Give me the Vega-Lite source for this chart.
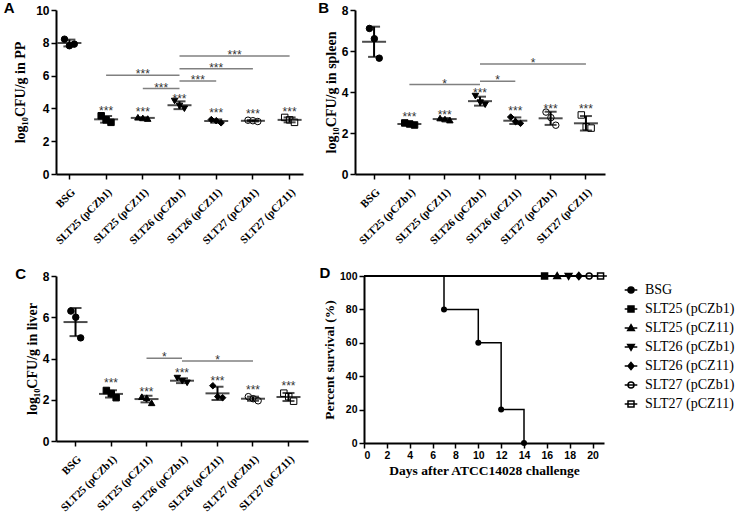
{
  "$schema": "https://vega.github.io/schema/vega-lite/v6.json",
  "padding": {"left": 3, "top": 1, "right": 0, "bottom": 0},
  "background": "white",
  "datasets": {
    "pp": [
      {"group": "BSG", "rep": 1, "value": 8.22}, {"group": "BSG", "rep": 2, "value": 7.82}, {"group": "BSG", "rep": 3, "value": 7.92},
      {"group": "SLT25 (pCZb1)", "rep": 1, "value": 3.55}, {"group": "SLT25 (pCZb1)", "rep": 2, "value": 3.3}, {"group": "SLT25 (pCZb1)", "rep": 3, "value": 3.15},
      {"group": "SLT25 (pCZ11)", "rep": 1, "value": 3.46}, {"group": "SLT25 (pCZ11)", "rep": 2, "value": 3.42}, {"group": "SLT25 (pCZ11)", "rep": 3, "value": 3.38},
      {"group": "SLT26 (pCZb1)", "rep": 1, "value": 4.45}, {"group": "SLT26 (pCZb1)", "rep": 2, "value": 4.15}, {"group": "SLT26 (pCZb1)", "rep": 3, "value": 3.98},
      {"group": "SLT26 (pCZ11)", "rep": 1, "value": 3.32}, {"group": "SLT26 (pCZ11)", "rep": 2, "value": 3.25}, {"group": "SLT26 (pCZ11)", "rep": 3, "value": 3.12},
      {"group": "SLT27 (pCZb1)", "rep": 1, "value": 3.28}, {"group": "SLT27 (pCZb1)", "rep": 2, "value": 3.25}, {"group": "SLT27 (pCZb1)", "rep": 3, "value": 3.2},
      {"group": "SLT27 (pCZ11)", "rep": 1, "value": 3.45}, {"group": "SLT27 (pCZ11)", "rep": 2, "value": 3.3}, {"group": "SLT27 (pCZ11)", "rep": 3, "value": 3.15}
    ],
    "spleen": [
      {"group": "BSG", "rep": 1, "value": 7.1}, {"group": "BSG", "rep": 2, "value": 6.6}, {"group": "BSG", "rep": 3, "value": 5.65},
      {"group": "SLT25 (pCZb1)", "rep": 1, "value": 2.49}, {"group": "SLT25 (pCZb1)", "rep": 2, "value": 2.44}, {"group": "SLT25 (pCZb1)", "rep": 3, "value": 2.39},
      {"group": "SLT25 (pCZ11)", "rep": 1, "value": 2.73}, {"group": "SLT25 (pCZ11)", "rep": 2, "value": 2.68}, {"group": "SLT25 (pCZ11)", "rep": 3, "value": 2.63},
      {"group": "SLT26 (pCZb1)", "rep": 1, "value": 3.8}, {"group": "SLT26 (pCZb1)", "rep": 2, "value": 3.48}, {"group": "SLT26 (pCZb1)", "rep": 3, "value": 3.38},
      {"group": "SLT26 (pCZ11)", "rep": 1, "value": 2.78}, {"group": "SLT26 (pCZ11)", "rep": 2, "value": 2.55}, {"group": "SLT26 (pCZ11)", "rep": 3, "value": 2.47},
      {"group": "SLT27 (pCZb1)", "rep": 1, "value": 3.02}, {"group": "SLT27 (pCZb1)", "rep": 2, "value": 2.75}, {"group": "SLT27 (pCZb1)", "rep": 3, "value": 2.38},
      {"group": "SLT27 (pCZ11)", "rep": 1, "value": 2.88}, {"group": "SLT27 (pCZ11)", "rep": 2, "value": 2.3}, {"group": "SLT27 (pCZ11)", "rep": 3, "value": 2.24}
    ],
    "liver": [
      {"group": "BSG", "rep": 1, "value": 6.3}, {"group": "BSG", "rep": 2, "value": 6.0}, {"group": "BSG", "rep": 3, "value": 5.0},
      {"group": "SLT25 (pCZb1)", "rep": 1, "value": 2.45}, {"group": "SLT25 (pCZb1)", "rep": 2, "value": 2.3}, {"group": "SLT25 (pCZb1)", "rep": 3, "value": 2.1},
      {"group": "SLT25 (pCZ11)", "rep": 1, "value": 2.15}, {"group": "SLT25 (pCZ11)", "rep": 2, "value": 2.1}, {"group": "SLT25 (pCZ11)", "rep": 3, "value": 1.85},
      {"group": "SLT26 (pCZb1)", "rep": 1, "value": 3.05}, {"group": "SLT26 (pCZb1)", "rep": 2, "value": 2.9}, {"group": "SLT26 (pCZb1)", "rep": 3, "value": 2.82},
      {"group": "SLT26 (pCZ11)", "rep": 1, "value": 2.68}, {"group": "SLT26 (pCZ11)", "rep": 2, "value": 2.15}, {"group": "SLT26 (pCZ11)", "rep": 3, "value": 2.1},
      {"group": "SLT27 (pCZb1)", "rep": 1, "value": 2.15}, {"group": "SLT27 (pCZb1)", "rep": 2, "value": 2.05}, {"group": "SLT27 (pCZb1)", "rep": 3, "value": 1.95},
      {"group": "SLT27 (pCZ11)", "rep": 1, "value": 2.32}, {"group": "SLT27 (pCZ11)", "rep": 2, "value": 2.15}, {"group": "SLT27 (pCZ11)", "rep": 3, "value": 1.93}
    ],
    "ppStars": [
      {"group": "SLT25 (pCZb1)", "value": 4.01, "label": "***"}, {"group": "SLT25 (pCZ11)", "value": 3.95, "label": "***"},
      {"group": "SLT26 (pCZb1)", "value": 4.76, "label": "***"}, {"group": "SLT26 (pCZ11)", "value": 3.89, "label": "***"},
      {"group": "SLT27 (pCZb1)", "value": 3.85, "label": "***"}, {"group": "SLT27 (pCZ11)", "value": 3.95, "label": "***"}
    ],
    "spleenStars": [
      {"group": "SLT25 (pCZb1)", "value": 2.93, "label": "***"}, {"group": "SLT25 (pCZ11)", "value": 3.04, "label": "***"},
      {"group": "SLT26 (pCZb1)", "value": 4.11, "label": "***"}, {"group": "SLT26 (pCZ11)", "value": 3.22, "label": "***"},
      {"group": "SLT27 (pCZb1)", "value": 3.33, "label": "***"}, {"group": "SLT27 (pCZ11)", "value": 3.33, "label": "***"}
    ],
    "liverStars": [
      {"group": "SLT25 (pCZb1)", "value": 2.94, "label": "***"}, {"group": "SLT25 (pCZ11)", "value": 2.54, "label": "***"},
      {"group": "SLT26 (pCZb1)", "value": 3.45, "label": "***"}, {"group": "SLT26 (pCZ11)", "value": 3.07, "label": "***"},
      {"group": "SLT27 (pCZb1)", "value": 2.62, "label": "***"}, {"group": "SLT27 (pCZ11)", "value": 2.83, "label": "***"}
    ],
    "ppSig": [
      {"from": 1, "to": 3, "mid": 2, "value": 6.02, "label": "***"},
      {"from": 2, "to": 3, "mid": 2.5, "value": 5.21, "label": "***"},
      {"from": 3, "to": 4, "mid": 3.5, "value": 5.67, "label": "***"},
      {"from": 3, "to": 5, "mid": 4, "value": 6.42, "label": "***"},
      {"from": 3, "to": 6, "mid": 4.5, "value": 7.19, "label": "***"}
    ],
    "spleenSig": [
      {"from": 1, "to": 3, "mid": 2, "value": 4.36, "label": "*"},
      {"from": 3, "to": 4, "mid": 3.5, "value": 4.52, "label": "*"},
      {"from": 3, "to": 6, "mid": 4.5, "value": 5.37, "label": "*"}
    ],
    "liverSig": [
      {"from": 2, "to": 3, "mid": 2.5, "value": 4.01, "label": "*"},
      {"from": 3, "to": 5, "mid": 4, "value": 3.88, "label": "*"}
    ],
    "survCurves": [
      {"group": "BSG", "day": 0, "survival": 100}, {"group": "BSG", "day": 7, "survival": 80}, {"group": "BSG", "day": 10, "survival": 60},
      {"group": "BSG", "day": 12, "survival": 20}, {"group": "BSG", "day": 14, "survival": 0},
      {"group": "SLT25 (pCZb1)", "day": 0, "survival": 100}, {"group": "SLT25 (pCZb1)", "day": 15.8, "survival": 100},
      {"group": "SLT25 (pCZ11)", "day": 0, "survival": 100}, {"group": "SLT25 (pCZ11)", "day": 16.9, "survival": 100},
      {"group": "SLT26 (pCZb1)", "day": 0, "survival": 100}, {"group": "SLT26 (pCZb1)", "day": 17.9, "survival": 100},
      {"group": "SLT26 (pCZ11)", "day": 0, "survival": 100}, {"group": "SLT26 (pCZ11)", "day": 18.8, "survival": 100},
      {"group": "SLT27 (pCZb1)", "day": 0, "survival": 100}, {"group": "SLT27 (pCZb1)", "day": 19.7, "survival": 100},
      {"group": "SLT27 (pCZ11)", "day": 0, "survival": 100}, {"group": "SLT27 (pCZ11)", "day": 20.7, "survival": 100}
    ],
    "survBSG": [
      {"group": "BSG", "day": 7, "survival": 80}, {"group": "BSG", "day": 10, "survival": 60},
      {"group": "BSG", "day": 12, "survival": 20}, {"group": "BSG", "day": 14, "survival": 0}
    ],
    "survEnd": [
      {"group": "SLT25 (pCZb1)", "day": 15.8, "survival": 100},
      {"group": "SLT25 (pCZ11)", "day": 16.9, "survival": 100},
      {"group": "SLT26 (pCZb1)", "day": 17.9, "survival": 100},
      {"group": "SLT26 (pCZ11)", "day": 18.8, "survival": 100},
      {"group": "SLT27 (pCZb1)", "day": 19.7, "survival": 100},
      {"group": "SLT27 (pCZ11)", "day": 20.7, "survival": 100}
    ]
  },
  "resolve": {
    "scale": {"shape": "independent", "fill": "independent", "stroke": "independent"},
    "legend": {"shape": "independent", "fill": "independent", "stroke": "independent"}
  },
  "spacing": 19,
  "vconcat": [
    {
      "spacing": 15,
      "hconcat": [
        {
          "width": 247,
          "height": 164,
          "title": {"text": "A", "anchor": "start", "frame": "bounds", "baseline": "top", "offset": 0, "dx": -10, "dy": 12, "font": "Liberation Sans", "fontSize": 15, "fontWeight": "bold", "color": "black"},
          "resolve": {"scale": {"x": "independent"}},
          "encoding": {
            "y": {"field": "value", "type": "quantitative", "scale": {"domain": [0, 10], "nice": false}, "axis": {"values": [0, 2, 4, 6, 8, 10], "title": "log₁₀CFU/g in PP", "titlePadding": 8, "labelFontSize": 12}}
          },
          "layer": [
            {
              "encoding": {
                "x": {"field": "group", "type": "nominal",
                  "scale": {"domain": ["BSG", "SLT25 (pCZb1)", "SLT25 (pCZ11)", "SLT26 (pCZb1)", "SLT26 (pCZ11)", "SLT27 (pCZb1)", "SLT27 (pCZ11)"], "paddingInner": 0.6, "paddingOuter": 0.165},
                  "axis": {"title": null, "labelAngle": -45, "labelFont": "Liberation Serif", "labelFontSize": 11, "labelFontWeight": "bold", "labelPadding": 7}}
              },
              "layer": [
                {
                  "data": {"name": "pp"},
                  "mark": {"type": "point", "filled": true, "stroke": "black", "strokeWidth": 1, "size": 42, "opacity": 1},
                  "encoding": {
                    "xOffset": {"field": "rep", "type": "nominal"},
                    "shape": {"field": "group", "type": "nominal", "legend": null,
                      "scale": {"domain": ["BSG", "SLT25 (pCZb1)", "SLT25 (pCZ11)", "SLT26 (pCZb1)", "SLT26 (pCZ11)", "SLT27 (pCZb1)", "SLT27 (pCZ11)"], "range": ["circle", "square", "triangle-up", "triangle-down", "diamond", "circle", "square"]}},
                    "fill": {"field": "group", "type": "nominal", "legend": null,
                      "scale": {"domain": ["BSG", "SLT25 (pCZb1)", "SLT25 (pCZ11)", "SLT26 (pCZb1)", "SLT26 (pCZ11)", "SLT27 (pCZb1)", "SLT27 (pCZ11)"], "range": ["black", "black", "black", "black", "black", "white", "white"]}}
                  }
                },
                {
                  "data": {"name": "pp"},
                  "mark": {"type": "errorbar", "extent": "stdev", "ticks": true, "size": 12, "thickness": 2, "color": "black"}
                },
                {
                  "data": {"name": "pp"},
                  "transform": [{"aggregate": [{"op": "mean", "field": "value", "as": "value"}], "groupby": ["group"]}],
                  "mark": {"type": "tick", "size": 24, "thickness": 2, "color": "black"}
                },
                {
                  "data": {"name": "ppStars"},
                  "mark": {"type": "text", "font": "Liberation Sans", "fontSize": 12, "color": "#333", "baseline": "alphabetic", "dy": 7},
                  "encoding": {"text": {"field": "label"}}
                }
              ]
            },
            {
              "data": {"name": "ppSig"},
              "encoding": {
                "x": {"field": "from", "type": "quantitative", "scale": {"domain": [-0.365, 6.365], "nice": false, "zero": false}, "axis": null}
              },
              "layer": [
                {"mark": {"type": "rule", "color": "#808080", "strokeWidth": 1.5}, "encoding": {"x2": {"field": "to"}}},
                {"mark": {"type": "text", "font": "Liberation Sans", "fontSize": 12, "color": "#333", "baseline": "alphabetic", "dy": 3},
                 "encoding": {"x": {"field": "mid", "type": "quantitative", "scale": {"domain": [-0.365, 6.365], "nice": false, "zero": false}, "axis": null}, "text": {"field": "label"}}}
              ]
            }
          ]
        },
        {
          "width": 250,
          "height": 164,
          "title": {"text": "B", "anchor": "start", "frame": "bounds", "baseline": "top", "offset": 0, "dx": -6, "dy": 12, "font": "Liberation Sans", "fontSize": 15, "fontWeight": "bold", "color": "black"},
          "resolve": {"scale": {"x": "independent"}},
          "encoding": {
            "y": {"field": "value", "type": "quantitative", "scale": {"domain": [0, 8], "nice": false}, "axis": {"values": [0, 2, 4, 6, 8], "title": "log₁₀CFU/g in spleen", "labelFontSize": 12}}
          },
          "layer": [
            {
              "encoding": {
                "x": {"field": "group", "type": "nominal",
                  "scale": {"domain": ["BSG", "SLT25 (pCZb1)", "SLT25 (pCZ11)", "SLT26 (pCZb1)", "SLT26 (pCZ11)", "SLT27 (pCZb1)", "SLT27 (pCZ11)"], "paddingInner": 0.6, "paddingOuter": 0.34},
                  "axis": {"title": null, "labelAngle": -45, "labelFont": "Liberation Serif", "labelFontSize": 11, "labelFontWeight": "bold", "labelPadding": 7}}
              },
              "layer": [
                {
                  "data": {"name": "spleen"},
                  "mark": {"type": "point", "filled": true, "stroke": "black", "strokeWidth": 1, "size": 42, "opacity": 1},
                  "encoding": {
                    "xOffset": {"field": "rep", "type": "nominal"},
                    "shape": {"field": "group", "type": "nominal", "legend": null,
                      "scale": {"domain": ["BSG", "SLT25 (pCZb1)", "SLT25 (pCZ11)", "SLT26 (pCZb1)", "SLT26 (pCZ11)", "SLT27 (pCZb1)", "SLT27 (pCZ11)"], "range": ["circle", "square", "triangle-up", "triangle-down", "diamond", "circle", "square"]}},
                    "fill": {"field": "group", "type": "nominal", "legend": null,
                      "scale": {"domain": ["BSG", "SLT25 (pCZb1)", "SLT25 (pCZ11)", "SLT26 (pCZb1)", "SLT26 (pCZ11)", "SLT27 (pCZb1)", "SLT27 (pCZ11)"], "range": ["black", "black", "black", "black", "black", "white", "white"]}}
                  }
                },
                {
                  "data": {"name": "spleen"},
                  "mark": {"type": "errorbar", "extent": "stdev", "ticks": true, "size": 12, "thickness": 2, "color": "black"}
                },
                {
                  "data": {"name": "spleen"},
                  "transform": [{"aggregate": [{"op": "mean", "field": "value", "as": "value"}], "groupby": ["group"]}],
                  "mark": {"type": "tick", "size": 24, "thickness": 2, "color": "black"}
                },
                {
                  "data": {"name": "spleenStars"},
                  "mark": {"type": "text", "font": "Liberation Sans", "fontSize": 12, "color": "#333", "baseline": "alphabetic", "dy": 7},
                  "encoding": {"text": {"field": "label"}}
                }
              ]
            },
            {
              "data": {"name": "spleenSig"},
              "encoding": {
                "x": {"field": "from", "type": "quantitative", "scale": {"domain": [-0.54, 6.54], "nice": false, "zero": false}, "axis": null}
              },
              "layer": [
                {"mark": {"type": "rule", "color": "#808080", "strokeWidth": 1.5}, "encoding": {"x2": {"field": "to"}}},
                {"mark": {"type": "text", "font": "Liberation Sans", "fontSize": 12, "color": "#333", "baseline": "alphabetic", "dy": 3},
                 "encoding": {"x": {"field": "mid", "type": "quantitative", "scale": {"domain": [-0.54, 6.54], "nice": false, "zero": false}, "axis": null}, "text": {"field": "label"}}}
              ]
            }
          ]
        }
      ]
    },
    {
      "spacing": 11,
      "resolve": {
        "scale": {"shape": "independent", "fill": "independent", "stroke": "independent"},
        "legend": {"shape": "independent", "fill": "independent", "stroke": "independent"}
      },
      "hconcat": [
        {
          "width": 252,
          "height": 165,
          "title": {"text": "C", "anchor": "start", "frame": "bounds", "baseline": "top", "offset": 0, "dx": -10, "dy": 12, "font": "Liberation Sans", "fontSize": 15, "fontWeight": "bold", "color": "black"},
          "resolve": {"scale": {"x": "independent"}},
          "encoding": {
            "y": {"field": "value", "type": "quantitative", "scale": {"domain": [0, 8], "nice": false}, "axis": {"values": [0, 2, 4, 6, 8], "title": "log₁₀CFU/g in liver", "labelFontSize": 12}}
          },
          "layer": [
            {
              "encoding": {
                "x": {"field": "group", "type": "nominal",
                  "scale": {"domain": ["BSG", "SLT25 (pCZb1)", "SLT25 (pCZ11)", "SLT26 (pCZb1)", "SLT26 (pCZ11)", "SLT27 (pCZb1)", "SLT27 (pCZ11)"], "paddingInner": 0.6, "paddingOuter": 0.35},
                  "axis": {"title": null, "labelAngle": -45, "labelFont": "Liberation Serif", "labelFontSize": 11, "labelFontWeight": "bold", "labelPadding": 7}}
              },
              "layer": [
                {
                  "data": {"name": "liver"},
                  "mark": {"type": "point", "filled": true, "stroke": "black", "strokeWidth": 1, "size": 42, "opacity": 1},
                  "encoding": {
                    "xOffset": {"field": "rep", "type": "nominal"},
                    "shape": {"field": "group", "type": "nominal", "legend": null,
                      "scale": {"domain": ["BSG", "SLT25 (pCZb1)", "SLT25 (pCZ11)", "SLT26 (pCZb1)", "SLT26 (pCZ11)", "SLT27 (pCZb1)", "SLT27 (pCZ11)"], "range": ["circle", "square", "triangle-up", "triangle-down", "diamond", "circle", "square"]}},
                    "fill": {"field": "group", "type": "nominal", "legend": null,
                      "scale": {"domain": ["BSG", "SLT25 (pCZb1)", "SLT25 (pCZ11)", "SLT26 (pCZb1)", "SLT26 (pCZ11)", "SLT27 (pCZb1)", "SLT27 (pCZ11)"], "range": ["black", "black", "black", "black", "black", "white", "white"]}}
                  }
                },
                {
                  "data": {"name": "liver"},
                  "mark": {"type": "errorbar", "extent": "stdev", "ticks": true, "size": 12, "thickness": 2, "color": "black"}
                },
                {
                  "data": {"name": "liver"},
                  "transform": [{"aggregate": [{"op": "mean", "field": "value", "as": "value"}], "groupby": ["group"]}],
                  "mark": {"type": "tick", "size": 24, "thickness": 2, "color": "black"}
                },
                {
                  "data": {"name": "liverStars"},
                  "mark": {"type": "text", "font": "Liberation Sans", "fontSize": 12, "color": "#333", "baseline": "alphabetic", "dy": 7},
                  "encoding": {"text": {"field": "label"}}
                }
              ]
            },
            {
              "data": {"name": "liverSig"},
              "encoding": {
                "x": {"field": "from", "type": "quantitative", "scale": {"domain": [-0.55, 6.55], "nice": false, "zero": false}, "axis": null}
              },
              "layer": [
                {"mark": {"type": "rule", "color": "#808080", "strokeWidth": 1.5}, "encoding": {"x2": {"field": "to"}}},
                {"mark": {"type": "text", "font": "Liberation Sans", "fontSize": 12, "color": "#333", "baseline": "alphabetic", "dy": 3},
                 "encoding": {"x": {"field": "mid", "type": "quantitative", "scale": {"domain": [-0.55, 6.55], "nice": false, "zero": false}, "axis": null}, "text": {"field": "label"}}}
              ]
            }
          ]
        },
        {
          "width": 240,
          "height": 167,
          "title": {"text": "D", "anchor": "start", "frame": "bounds", "baseline": "top", "offset": 0, "dx": -3, "dy": 12, "font": "Liberation Sans", "fontSize": 15, "fontWeight": "bold", "color": "black"},
          "encoding": {
            "x": {"field": "day", "type": "quantitative", "scale": {"domain": [0, 21], "nice": false},
              "axis": {"values": [0, 2, 4, 6, 8, 10, 12, 14, 16, 18, 20], "title": "Days after ATCC14028 challenge", "titleFontSize": 13.5, "labelFontSize": 10.5, "labelAngle": 0}},
            "y": {"field": "survival", "type": "quantitative", "scale": {"domain": [0, 100], "nice": false},
              "axis": {"values": [0, 20, 40, 60, 80, 100], "title": "Percent survival (%)", "titleFontSize": 13.5, "labelFontSize": 10.5}}
          },
          "layer": [
            {
              "data": {"name": "survCurves"},
              "mark": {"type": "line", "interpolate": "step-after", "color": "black", "strokeWidth": 1.5},
              "encoding": {"detail": {"field": "group"}}
            },
            {
              "data": {"name": "survBSG"},
              "mark": {"type": "point", "shape": "circle", "filled": true, "color": "black", "size": 36, "opacity": 1}
            },
            {
              "data": {"name": "survEnd"},
              "mark": {"type": "point", "filled": true, "strokeWidth": 1.5, "size": 36, "opacity": 1},
              "encoding": {
                "shape": {"field": "group", "type": "nominal",
                  "scale": {"domain": ["BSG", "SLT25 (pCZb1)", "SLT25 (pCZ11)", "SLT26 (pCZb1)", "SLT26 (pCZ11)", "SLT27 (pCZb1)", "SLT27 (pCZ11)"],
                    "range": [
                      "M-2.1,0H2.1M1,0A1,1,0,1,1,-1,0A1,1,0,1,1,1,0Z",
                      "M-2.1,0H2.1M-1,-1H1V1H-1Z",
                      "M-2.1,0H2.1M0,-1.1L1.1,0.8H-1.1Z",
                      "M-2.1,0H2.1M0,1.1L1.1,-0.8H-1.1Z",
                      "M-2.1,0H2.1M0,-1.2L1,0L0,1.2L-1,0Z",
                      "M-2.1,0H2.1M1,0A1,1,0,1,1,-1,0A1,1,0,1,1,1,0Z",
                      "M-2.1,0H2.1M-1,-1H1V1H-1Z"
                    ]},
                  "legend": {"title": null, "orient": "right", "offset": 13, "padding": 7, "labelFont": "Liberation Serif", "labelFontSize": 14, "labelFontWeight": "normal", "labelColor": "black", "labelLimit": 200, "symbolSize": 36, "symbolStrokeColor": "black", "symbolStrokeWidth": 1.5, "rowPadding": 5, "labelOffset": 7}},
                "fill": {"field": "group", "type": "nominal",
                  "scale": {"domain": ["BSG", "SLT25 (pCZb1)", "SLT25 (pCZ11)", "SLT26 (pCZb1)", "SLT26 (pCZ11)", "SLT27 (pCZb1)", "SLT27 (pCZ11)"], "range": ["black", "black", "black", "black", "black", "white", "white"]}},
                "stroke": {"field": "group", "type": "nominal",
                  "scale": {"domain": ["BSG", "SLT25 (pCZb1)", "SLT25 (pCZ11)", "SLT26 (pCZb1)", "SLT26 (pCZ11)", "SLT27 (pCZb1)", "SLT27 (pCZ11)"], "range": ["black", "black", "black", "black", "black", "black", "black"]}}
              }
            }
          ]
        }
      ]
    }
  ],
  "config": {
    "view": {"stroke": null},
    "axis": {
      "grid": false,
      "domainColor": "black",
      "domainWidth": 2,
      "tickColor": "black",
      "tickWidth": 1.5,
      "tickSize": 5,
      "labelColor": "black",
      "labelFont": "Liberation Sans",
      "labelFontWeight": "bold",
      "labelFontSize": 11,
      "labelPadding": 2,
      "titleColor": "black",
      "titleFont": "Liberation Serif",
      "titleFontWeight": "bold",
      "titleFontSize": 14,
      "titlePadding": 3
    }
  }
}
